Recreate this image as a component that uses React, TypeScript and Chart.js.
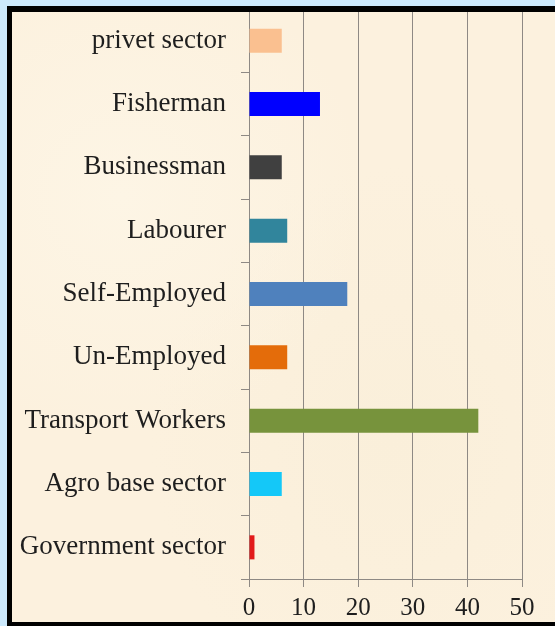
import React, { useEffect, useRef } from "react";
import { Chart, registerables } from "chart.js";

Chart.register(...registerables);

const categories = [
  "privet sector",
  "Fisherman",
  "Businessman",
  "Labourer",
  "Self-Employed",
  "Un-Employed",
  "Transport Workers",
  "Agro base sector",
  "Government sector",
];
const values = [6, 13, 6, 7, 18, 7, 42, 6, 1];
const barColors = [
  "#fac090",
  "#0000ff",
  "#404040",
  "#31859c",
  "#4f81bd",
  "#e46c0a",
  "#77933c",
  "#14c8f8",
  "#e21a1a",
];
const xMin = 0;
const xMax = 50;
const xStep = 10;

const FONT = "'Liberation Serif', 'Times New Roman', serif";
const GRID = "#8e8984";

export default function App() {
  const ref = useRef<HTMLCanvasElement | null>(null);

  useEffect(() => {
    if (!ref.current) return;
    const chart = new Chart(ref.current, {
      type: "bar",
      data: {
        labels: categories,
        datasets: [
          {
            data: values,
            backgroundColor: barColors,
            borderWidth: 0,
            categoryPercentage: 1,
            barPercentage: 0.38,
          },
        ],
      },
      options: {
        indexAxis: "y",
        responsive: false,
        animation: false,
        layout: { padding: { top: 9, right: 33, left: 0, bottom: 0 } },
        plugins: { legend: { display: false }, tooltip: { enabled: false } },
        scales: {
          x: {
            min: xMin,
            max: xMax,
            ticks: {
              stepSize: xStep,
              color: "#1e1e1e",
              font: { family: FONT, size: 25 },
              padding: 6,
            },
            grid: { color: GRID, lineWidth: 1, tickLength: 8 },
            border: { color: GRID, width: 1 },
            afterFit: (s: any) => {
              s.height = 47;
              s.paddingLeft = 0;
              s.paddingRight = 0;
            },
          },
          y: {
            ticks: {
              color: "#1e1e1e",
              font: { family: FONT, size: 27 },
              padding: 15,
              autoSkip: false,
            },
            grid: { drawOnChartArea: false, color: GRID, tickLength: 8, offset: true },
            border: { color: GRID, width: 1 },
            afterFit: (s: any) => {
              s.width = 249;
              s.paddingTop = 0;
              s.paddingBottom = 0;
            },
          },
        },
      },
    });
    return () => chart.destroy();
  }, []);

  return (
    <div
      style={{
        position: "fixed",
        left: 0,
        top: 0,
        width: 555,
        height: 626,
        overflow: "hidden",
        background: "#cce9fc",
      }}
    >
      <div
        style={{
          position: "absolute",
          left: 12,
          top: 12,
          right: 0,
          bottom: 4,
          background:
            "radial-gradient(ellipse at 20% 30%, #fdf5e5 0%, rgba(253,245,229,0) 40%), radial-gradient(ellipse at 70% 70%, #faefda 0%, rgba(250,239,218,0) 45%), #fcf1de",
        }}
      />
      <canvas
        ref={ref}
        width={555}
        height={626}
        style={{ position: "absolute", left: 0, top: 0, width: 555, height: 626 }}
      />
      <div
        style={{
          position: "absolute",
          left: 7,
          top: 6,
          width: 600,
          height: 620,
          boxSizing: "border-box",
          borderLeft: "5px solid #000",
          borderTop: "6px solid #000",
          borderBottom: "4px solid #000",
          pointerEvents: "none",
        }}
      />
    </div>
  );
}
